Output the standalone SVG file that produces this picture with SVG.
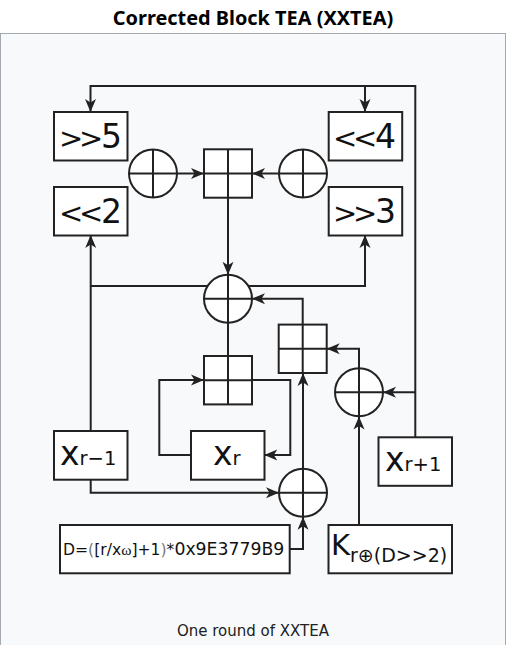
<svg xmlns="http://www.w3.org/2000/svg" width="506" height="645" viewBox="0 0 506 645">
<style>
.t{font-family:"DejaVu Sans",sans-serif;fill:#111}
.b{fill:#fff;stroke:#222;stroke-width:2}
.c{fill:none;stroke:#222;stroke-width:2}
.l{fill:none;stroke:#222;stroke-width:2}
.a{marker-end:url(#h)}
.s{font-size:33px}
.g{font-size:29px;letter-spacing:-4.3px}
.u{font-size:19.5px}
</style>
<defs>
<marker id="h" markerUnits="userSpaceOnUse" markerWidth="16" markerHeight="14" refX="14" refY="7" orient="auto" overflow="visible">
<path d="M14 7L1 1.5L4.5 7L1 12.5Z" fill="#222"/>
</marker>
<g id="xor-shape"><circle r="24" class="b"/><path d="M-24 0H24M0-24V24" class="c"/></g>
<g id="sq-shape"><rect x="-24" y="-24.2" width="48" height="48.4" class="b"/><path d="M-24 0H24M0-24V24" class="c"/></g>
</defs>
<rect width="506" height="645" fill="#fff"/>
<rect x="0.5" y="33.5" width="505" height="612" fill="#f8f9fa" stroke="#a2a9b1"/>
<text x="253" y="25" text-anchor="middle" style="font-family:'Noto Sans',sans-serif;font-weight:700;font-size:19.9px" fill="#000">Corrected Block TEA (XXTEA)</text>
<text x="253" y="636" text-anchor="middle" style="font-family:'DejaVu Sans',sans-serif;font-size:15px" fill="#202122">One round of XXTEA</text>
<g id="connectors">
<path class="l a" d="M415.3 437V86H90.5V112"/>
<path class="l a" d="M365 86V112"/>
<path class="l a" d="M90.7 431V235"/>
<path class="l" d="M90.7 286H208"/>
<path class="l a" d="M248 286H365V235"/>
<path class="l a" d="M153 173.5H204"/>
<path class="l a" d="M303 173.5H252"/>
<path class="l a" d="M228 198V274.7"/>
<path class="l" d="M228 322.7V356"/>
<path class="l a" d="M302.7 325V298.7H252"/>
<path class="l a" d="M359 368V348.7H326.7"/>
<path class="l a" d="M415.3 392.3H383"/>
<path class="l a" d="M359 525V416.5"/>
<path class="l a" d="M191 455H159.3V380H204"/>
<path class="l a" d="M252 380H290.3V455H264.3"/>
<path class="l a" d="M90.7 480V492.7H279"/>
<path class="l a" d="M303 469V373"/>
<path class="l a" d="M289.7 549H303V516.7"/>
</g>
<g id="n-sr5"><rect class="b" x="54" y="112" width="73.5" height="48.5"/><text class="t" x="59" y="148"><tspan class="g">&gt;&gt;</tspan><tspan class="s" dx="2">5</tspan></text></g>
<g id="n-sl4"><rect class="b" x="328.7" y="112" width="73.5" height="48.5"/><text class="t" x="333" y="148"><tspan class="g">&lt;&lt;</tspan><tspan class="s" dx="2">4</tspan></text></g>
<g id="n-sl2"><rect class="b" x="54" y="187" width="73.5" height="48.5"/><text class="t" x="59" y="223"><tspan class="g">&lt;&lt;</tspan><tspan class="s" dx="2">2</tspan></text></g>
<g id="n-sr3"><rect class="b" x="328.7" y="187" width="73.5" height="48.5"/><text class="t" x="333" y="223"><tspan class="g">&gt;&gt;</tspan><tspan class="s" dx="2">3</tspan></text></g>
<g id="n-xor1"><use href="#xor-shape" x="153" y="173.5"/></g>
<g id="n-xor2"><use href="#xor-shape" x="303" y="173.5"/></g>
<g id="n-sum1"><use href="#sq-shape" x="228" y="173.5"/></g>
<g id="n-xor3"><use href="#xor-shape" x="228" y="298.7"/></g>
<g id="n-sum2"><use href="#sq-shape" x="302.7" y="348.8"/></g>
<g id="n-sum3"><use href="#sq-shape" x="228" y="380.2"/></g>
<g id="n-xor4"><use href="#xor-shape" x="359" y="392.3"/></g>
<g id="n-xor5"><use href="#xor-shape" x="303" y="492.7"/></g>
<g id="n-xr1"><rect class="b" x="54" y="431" width="73.5" height="48.7"/><text class="t" x="60" y="465"><tspan class="s">x</tspan><tspan class="u">r−1</tspan></text></g>
<g id="n-xr"><rect class="b" x="191" y="431" width="73.5" height="48.7"/><text class="t" x="213" y="465"><tspan class="s">x</tspan><tspan class="u">r</tspan></text></g>
<g id="n-xr2"><rect class="b" x="378.5" y="437.3" width="73.5" height="48.5"/><text class="t" x="385" y="471"><tspan class="s">x</tspan><tspan class="u">r+1</tspan></text></g>
<g id="n-d"><rect class="b" x="60" y="525" width="229.7" height="48.3"/><text class="t" x="63" y="555" font-size="15.6">D=<tspan fill="#777">(</tspan>[r/x<tspan font-family="Liberation Serif">ω</tspan>]+1<tspan fill="#777">)</tspan>*<tspan font-size="17.3">0x9E3779B9</tspan></text></g>
<g id="n-k"><rect class="b" x="328.5" y="525" width="123.5" height="48.3"/><text class="t" x="331" y="555" font-size="29">K<tspan font-size="19" dy="7">r⊕(D&gt;&gt;2)</tspan></text></g>
</svg>
